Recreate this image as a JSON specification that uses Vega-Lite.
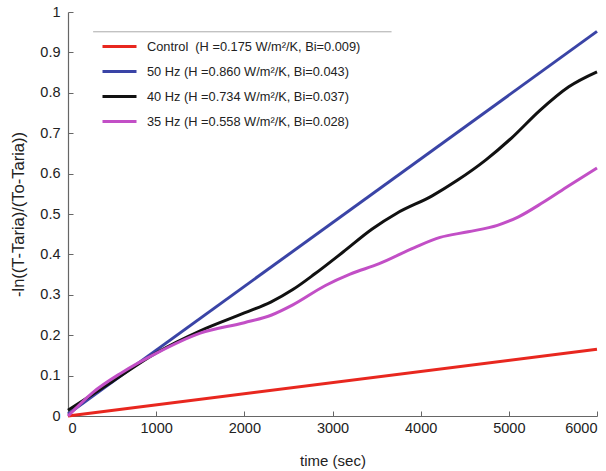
{
  "$schema": "https://vega.github.io/schema/vega-lite/v6.json",
  "width": 529,
  "height": 404,
  "autosize": {"type": "none"},
  "padding": {"left": 68, "top": 12, "right": 9, "bottom": 55},
  "background": "white",
  "config": {
    "view": {"stroke": null},
    "font": "Liberation Sans",
    "axis": {
      "grid": false,
      "domainColor": "#666",
      "domainWidth": 1.2,
      "tickColor": "#666",
      "labelColor": "#222",
      "titleColor": "#222",
      "labelFont": "Liberation Sans",
      "titleFont": "Liberation Sans",
      "labelFontSize": 14.5,
      "titleFontSize": 15,
      "titleFontWeight": "normal"
    }
  },
  "layer": [
    {
      "data": {"values": [
        {"series": "Control  (H =0.175 W/m²/K, Bi=0.009)", "t": 0, "v": 0},
        {"series": "Control  (H =0.175 W/m²/K, Bi=0.009)", "t": 6000, "v": 0.165},
        {"series": "50 Hz (H =0.860 W/m²/K, Bi=0.043)", "t": 0, "v": 0.005},
        {"series": "50 Hz (H =0.860 W/m²/K, Bi=0.043)", "t": 6000, "v": 0.952},
        {"series": "40 Hz (H =0.734 W/m²/K, Bi=0.037)", "t": 0, "v": 0.014},
        {"series": "40 Hz (H =0.734 W/m²/K, Bi=0.037)", "t": 500, "v": 0.085},
        {"series": "40 Hz (H =0.734 W/m²/K, Bi=0.037)", "t": 1000, "v": 0.156},
        {"series": "40 Hz (H =0.734 W/m²/K, Bi=0.037)", "t": 1500, "v": 0.211},
        {"series": "40 Hz (H =0.734 W/m²/K, Bi=0.037)", "t": 2000, "v": 0.255},
        {"series": "40 Hz (H =0.734 W/m²/K, Bi=0.037)", "t": 2300, "v": 0.282},
        {"series": "40 Hz (H =0.734 W/m²/K, Bi=0.037)", "t": 2550, "v": 0.313},
        {"series": "40 Hz (H =0.734 W/m²/K, Bi=0.037)", "t": 2800, "v": 0.352},
        {"series": "40 Hz (H =0.734 W/m²/K, Bi=0.037)", "t": 3120, "v": 0.406},
        {"series": "40 Hz (H =0.734 W/m²/K, Bi=0.037)", "t": 3450, "v": 0.463},
        {"series": "40 Hz (H =0.734 W/m²/K, Bi=0.037)", "t": 3730, "v": 0.502},
        {"series": "40 Hz (H =0.734 W/m²/K, Bi=0.037)", "t": 4130, "v": 0.545},
        {"series": "40 Hz (H =0.734 W/m²/K, Bi=0.037)", "t": 4420, "v": 0.584},
        {"series": "40 Hz (H =0.734 W/m²/K, Bi=0.037)", "t": 4740, "v": 0.634},
        {"series": "40 Hz (H =0.734 W/m²/K, Bi=0.037)", "t": 5030, "v": 0.688},
        {"series": "40 Hz (H =0.734 W/m²/K, Bi=0.037)", "t": 5350, "v": 0.756},
        {"series": "40 Hz (H =0.734 W/m²/K, Bi=0.037)", "t": 5680, "v": 0.815},
        {"series": "40 Hz (H =0.734 W/m²/K, Bi=0.037)", "t": 6000, "v": 0.852},
        {"series": "35 Hz (H =0.558 W/m²/K, Bi=0.028)", "t": 0, "v": 0.0},
        {"series": "35 Hz (H =0.558 W/m²/K, Bi=0.028)", "t": 280, "v": 0.058},
        {"series": "35 Hz (H =0.558 W/m²/K, Bi=0.028)", "t": 600, "v": 0.106},
        {"series": "35 Hz (H =0.558 W/m²/K, Bi=0.028)", "t": 1000, "v": 0.155},
        {"series": "35 Hz (H =0.558 W/m²/K, Bi=0.028)", "t": 1500, "v": 0.205},
        {"series": "35 Hz (H =0.558 W/m²/K, Bi=0.028)", "t": 2000, "v": 0.231},
        {"series": "35 Hz (H =0.558 W/m²/K, Bi=0.028)", "t": 2310, "v": 0.25},
        {"series": "35 Hz (H =0.558 W/m²/K, Bi=0.028)", "t": 2550, "v": 0.275},
        {"series": "35 Hz (H =0.558 W/m²/K, Bi=0.028)", "t": 2920, "v": 0.323},
        {"series": "35 Hz (H =0.558 W/m²/K, Bi=0.028)", "t": 3200, "v": 0.351},
        {"series": "35 Hz (H =0.558 W/m²/K, Bi=0.028)", "t": 3530, "v": 0.377},
        {"series": "35 Hz (H =0.558 W/m²/K, Bi=0.028)", "t": 3930, "v": 0.417},
        {"series": "35 Hz (H =0.558 W/m²/K, Bi=0.028)", "t": 4220, "v": 0.442},
        {"series": "35 Hz (H =0.558 W/m²/K, Bi=0.028)", "t": 4540, "v": 0.456},
        {"series": "35 Hz (H =0.558 W/m²/K, Bi=0.028)", "t": 4870, "v": 0.472},
        {"series": "35 Hz (H =0.558 W/m²/K, Bi=0.028)", "t": 5110, "v": 0.493},
        {"series": "35 Hz (H =0.558 W/m²/K, Bi=0.028)", "t": 5390, "v": 0.529},
        {"series": "35 Hz (H =0.558 W/m²/K, Bi=0.028)", "t": 5680, "v": 0.57},
        {"series": "35 Hz (H =0.558 W/m²/K, Bi=0.028)", "t": 6000, "v": 0.614}
      ]},
      "mark": {"type": "line", "strokeWidth": 3, "interpolate": "monotone"},
      "encoding": {
        "x": {
          "field": "t", "type": "quantitative",
          "scale": {"domain": [0, 6000], "nice": false},
          "axis": {"values": [0, 1000, 2000, 3000, 4000, 5000, 6000], "title": "time (sec)", "tickSize": -5, "labelPadding": 10, "titlePadding": 19, "format": "d"}
        },
        "y": {
          "field": "v", "type": "quantitative",
          "scale": {"domain": [0, 1], "nice": false},
          "axis": {"values": [0, 0.1, 0.2, 0.3, 0.4, 0.5, 0.6, 0.7, 0.8, 0.9, 1], "format": "~g", "title": "-ln((T-Taria)/(To-Taria))", "titleFontSize": 16.5, "tickSize": -5, "labelPadding": 13, "titlePadding": 13}
        },
        "color": {
          "field": "series", "type": "nominal",
          "scale": {
            "domain": ["Control  (H =0.175 W/m²/K, Bi=0.009)", "50 Hz (H =0.860 W/m²/K, Bi=0.043)", "40 Hz (H =0.734 W/m²/K, Bi=0.037)", "35 Hz (H =0.558 W/m²/K, Bi=0.028)"],
            "range": ["#e8271f", "#3a44a6", "#111111", "#c24fc6"]
          },
          "legend": {
            "title": null,
            "orient": "none",
            "legendX": 33,
            "legendY": 22,
            "symbolType": "stroke",
            "symbolSize": 1156,
            "symbolStrokeWidth": 3,
            "clipHeight": 25,
            "rowPadding": 0,
            "labelFontSize": 12.8,
            "labelColor": "#222",
            "labelLimit": 400,
            "labelOffset": 9,
            "labelExpr": "replace(datum.label, 'Control  ', 'Control\u00a0 ')"
          }
        }
      }
    },
    {
      "data": {"values": [{"t1": 285, "t2": 3670, "v": 0.951}]},
      "mark": {"type": "rule", "color": "#aaaaaa", "strokeWidth": 1},
      "encoding": {
        "x": {"field": "t1", "type": "quantitative"},
        "x2": {"field": "t2"},
        "y": {"field": "v", "type": "quantitative"}
      }
    }
  ]
}
